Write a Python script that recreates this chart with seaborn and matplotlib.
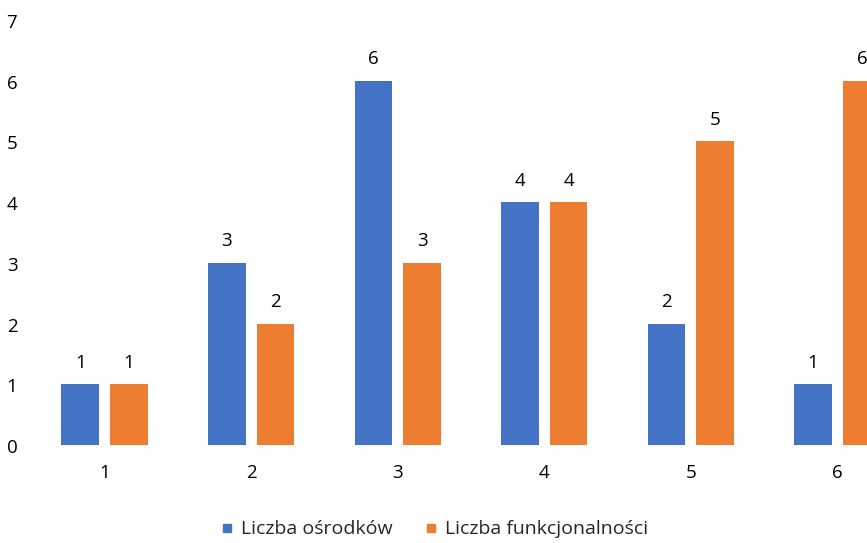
import matplotlib
matplotlib.use("Agg")
import matplotlib.pyplot as plt
import seaborn as sns
import pandas as pd
from matplotlib.lines import Line2D

categories = ["1", "2", "3", "4", "5", "6"]
series_names = ["Liczba ośrodków", "Liczba funkcjonalności"]
osrodki = [1, 3, 6, 4, 2, 1]
funkcjonalnosci = [1, 2, 3, 4, 5, 6]
yticks = [0, 1, 2, 3, 4, 5, 6, 7]
colors = ["#4472C4", "#ED7D31"]

df = pd.DataFrame({
    "cat": categories * 2,
    "value": osrodki + funkcjonalnosci,
    "series": [series_names[0]] * len(categories) + [series_names[1]] * len(categories),
})

sns.set_theme(style="white")
plt.rcParams["font.family"] = ["Open Sans", "DejaVu Sans"]

fs = 13.5
fig = plt.figure(figsize=(8.67, 5.43), dpi=100)
ax = fig.add_axes([0.036, 0.1805, 1.0145, 0.7826])
sns.barplot(data=df, x="cat", y="value", hue="series", order=categories,
            hue_order=series_names, palette=colors, width=0.664, gap=0.226,
            saturation=1, ax=ax, legend=False, errorbar=None, linewidth=0,
            edgecolor="none")

ax.set_ylim(0, 7)
ax.set_yticks(yticks)
ax.set_xlim(-0.5, len(categories) - 0.5)
for s in ax.spines.values():
    s.set_visible(False)
ax.set_xlabel("")
ax.set_ylabel("")
ax.tick_params(axis="both", length=0, labelsize=fs, colors="#000000")
ax.tick_params(axis="y", pad=10)
ax.tick_params(axis="x", pad=14)
for lbl in ax.get_yticklabels():
    lbl.set_va("top")
    lbl.set_y(lbl.get_position()[1])
ax.set_yticklabels([str(v) for v in yticks], va="center")
for lbl in ax.get_yticklabels():
    lbl.set_transform(lbl.get_transform() + matplotlib.transforms.ScaledTranslation(0, -3 / 100, fig.dpi_scale_trans))

for cont in ax.containers:
    ax.bar_label(cont, fmt="%g", padding=9, fontsize=fs, color="#000000")

handles = [Line2D([0], [0], marker="s", linestyle="", markersize=6,
                  markerfacecolor=c, markeredgecolor=c) for c in colors]
fig.legend(handles, series_names, loc="center", bbox_to_anchor=(0.5, 0.025),
           ncol=2, frameon=False, fontsize=fs + 0.5, handletextpad=0.3,
           columnspacing=1.6, handlelength=0.8)

fig.savefig("out.png", dpi=100)
